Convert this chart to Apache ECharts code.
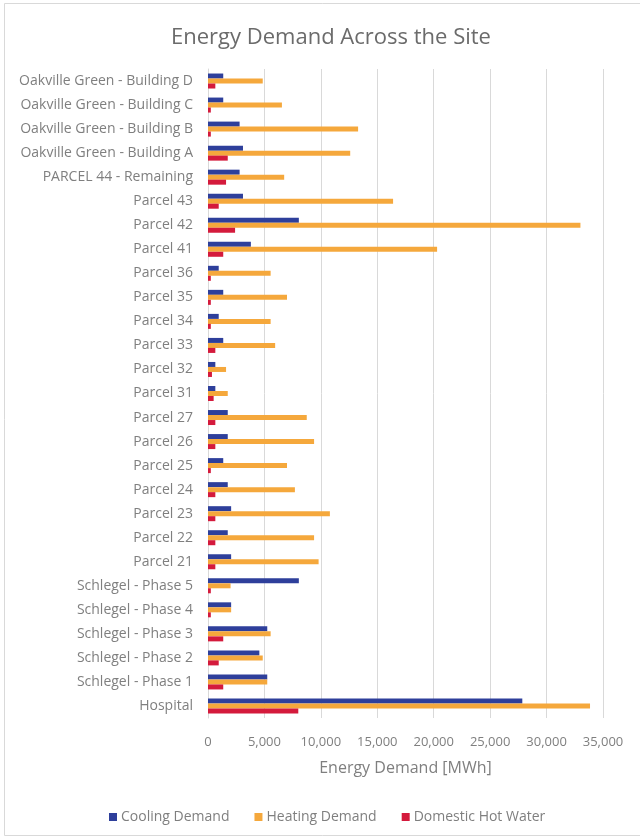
<!DOCTYPE html>
<html>
<head>
<meta charset="utf-8">
<script src="https://cdn.jsdelivr.net/npm/echarts@6/dist/echarts.min.js"></script>
<style>
  html, body { margin: 0; padding: 0; background: #ffffff; }
  #chart { width: 640px; height: 840px; }
</style>
</head>
<body>
<div id="chart"></div>
<script>
// Sites, listed top to bottom
const categories = [
  'Oakville Green - Building D',
  'Oakville Green - Building C',
  'Oakville Green - Building B',
  'Oakville Green - Building A',
  'PARCEL 44 - Remaining',
  'Parcel 43',
  'Parcel 42',
  'Parcel 41',
  'Parcel 36',
  'Parcel 35',
  'Parcel 34',
  'Parcel 33',
  'Parcel 32',
  'Parcel 31',
  'Parcel 27',
  'Parcel 26',
  'Parcel 25',
  'Parcel 24',
  'Parcel 23',
  'Parcel 22',
  'Parcel 21',
  'Schlegel - Phase 5',
  'Schlegel - Phase 4',
  'Schlegel - Phase 3',
  'Schlegel - Phase 2',
  'Schlegel - Phase 1',
  'Hospital'
];

// Annual demand, MWh
const coolingDemand = [
  1350, 1350, 2800, 3100, 2800, 3100, 8050, 3800,
  950, 1350, 950, 1350, 650, 650,
  1750, 1750, 1350, 1750, 2050, 1750, 2050,
  8050, 2050, 5250, 4550, 5250, 27850
];
const heatingDemand = [
  4850, 6550, 13300, 12600, 6750, 16400, 33000, 20300,
  5550, 7000, 5550, 5950, 1600, 1750,
  8750, 9400, 7000, 7700, 10800, 9400, 9800,
  2000, 2050, 5550, 4850, 5250, 33850
];
const hotWater = [
  650, 250, 250, 1750, 1600, 950, 2400, 1350,
  250, 250, 250, 650, 350, 500,
  650, 650, 250, 650, 650, 650, 650,
  250, 250, 1350, 950, 1350, 8000
];

const xTicks = { min: 0, max: 35000, interval: 5000 };

const textColor = '#7f7f7f';
const fontFamily = '"Open Sans", "Noto Sans", sans-serif';

const chart = echarts.init(document.getElementById('chart'), null, { renderer: 'canvas' });

chart.setOption({
  backgroundColor: '#ffffff',
  animation: false,
  textStyle: { fontFamily: fontFamily },
  title: {
    text: 'Energy Demand Across the Site',
    left: 326,
    textAlign: 'center',
    top: 22,
    textStyle: { color: '#6b6b6b', fontSize: 22, fontWeight: 'normal', fontFamily: fontFamily }
  },
  legend: {
    top: 805,
    left: 104,
    itemWidth: 8,
    itemHeight: 8,
    itemGap: 25,
    icon: 'rect',
    textStyle: { color: textColor, fontSize: 14, fontFamily: fontFamily, padding: [0, 0, 0, -1] }
  },
  grid: { left: 208, right: 37, top: 69, bottom: 122, containLabel: false },
  xAxis: {
    type: 'value',
    min: xTicks.min,
    max: xTicks.max,
    interval: xTicks.interval,
    name: 'Energy Demand [MWh]',
    nameLocation: 'middle',
    nameGap: 42,
    nameTextStyle: { color: textColor, fontSize: 16, fontFamily: fontFamily },
    axisLine: { show: false },
    axisTick: { show: false },
    axisLabel: {
      color: textColor, fontSize: 13, margin: 18,
      formatter: v => v.toLocaleString('en-US')
    },
    splitLine: { show: true, lineStyle: { color: '#d9d9d9', width: 1 } }
  },
  yAxis: {
    type: 'category',
    data: categories,
    inverse: true,
    axisLine: { show: true, lineStyle: { color: '#d9d9d9' } },
    axisTick: { show: false },
    axisLabel: { color: textColor, fontSize: 14, margin: 15 }
  },
  series: [
    {
      name: 'Cooling Demand', type: 'bar', data: coolingDemand,
      itemStyle: { color: '#2e3f9b' }, barWidth: 5, barGap: '0%'
    },
    {
      name: 'Heating Demand', type: 'bar', data: heatingDemand,
      itemStyle: { color: '#f5a83c' }, barWidth: 5, barGap: '0%'
    },
    {
      name: 'Domestic Hot Water', type: 'bar', data: hotWater,
      itemStyle: { color: '#d41a3c' }, barWidth: 5, barGap: '0%'
    }
  ],
  graphic: [
    {
      type: 'rect',
      shape: { x: 4.5, y: 3.5, width: 640, height: 832 },
      style: { fill: 'none', stroke: '#d9d9d9', lineWidth: 1 },
      silent: true
    }
  ]
});
</script>
</body>
</html>
